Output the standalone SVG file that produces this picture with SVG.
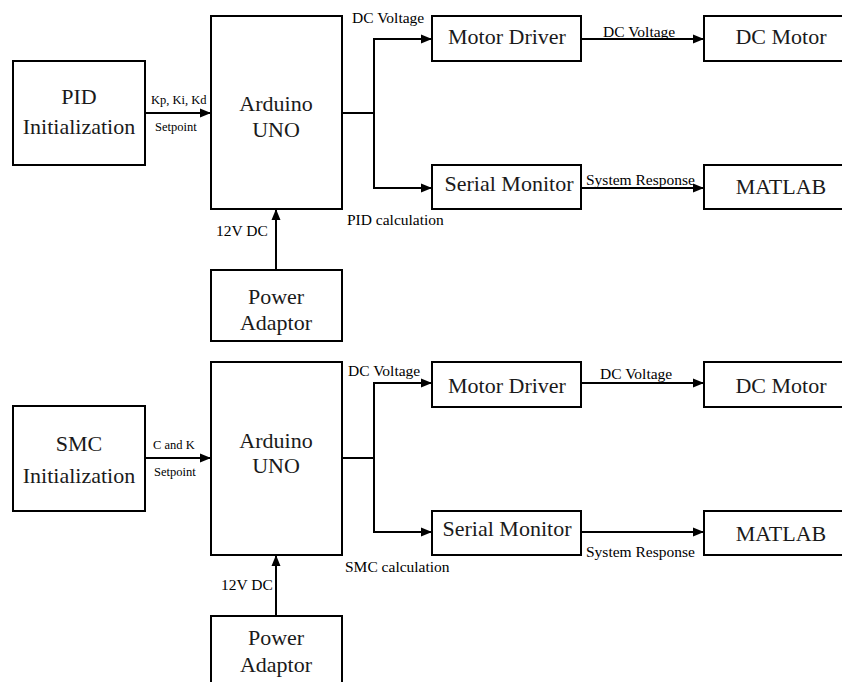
<svg xmlns="http://www.w3.org/2000/svg" width="842" height="682" viewBox="0 0 842 682">
<style>
.box{fill:#fff;stroke:#000;stroke-width:2}
.t{font-size:22px;fill:#1a1a1a;text-anchor:middle}
.l{font-size:15.5px;fill:#000}
.s{font-size:12.5px;fill:#000}
.c{fill:none;stroke:#000;stroke-width:2}
</style>
<defs>
<marker id="ah" markerUnits="userSpaceOnUse" markerWidth="12" markerHeight="10" refX="11" refY="5" orient="auto">
<path d="M0,0.5 L11,5 L0,9.5 z" fill="#000"/>
</marker>
</defs>
<rect width="842" height="682" fill="#fff"/>
<g font-family="Liberation Serif, Tinos, DejaVu Serif, serif">
<g id="connectors">
<line class="c" x1="145" y1="113" x2="211" y2="113" marker-end="url(#ah)"/>
<polyline class="c" points="342,113 374,113"/>
<line class="c" x1="374" y1="39" x2="374" y2="188"/>
<line class="c" x1="373" y1="39" x2="432" y2="39" marker-end="url(#ah)"/>
<line class="c" x1="373" y1="188" x2="432" y2="188" marker-end="url(#ah)"/>
<line class="c" x1="581" y1="39" x2="704" y2="39" marker-end="url(#ah)"/>
<line class="c" x1="581" y1="188" x2="704" y2="188" marker-end="url(#ah)"/>
<line class="c" x1="276" y1="270" x2="276" y2="209" marker-end="url(#ah)"/>
<line class="c" x1="145" y1="458" x2="211" y2="458" marker-end="url(#ah)"/>
<polyline class="c" points="342,458 374,458"/>
<line class="c" x1="374" y1="383" x2="374" y2="532"/>
<line class="c" x1="373" y1="383" x2="432" y2="383" marker-end="url(#ah)"/>
<line class="c" x1="373" y1="532" x2="432" y2="532" marker-end="url(#ah)"/>
<line class="c" x1="581" y1="383" x2="704" y2="383" marker-end="url(#ah)"/>
<line class="c" x1="581" y1="532" x2="704" y2="532" marker-end="url(#ah)"/>
<line class="c" x1="276" y1="616" x2="276" y2="555" marker-end="url(#ah)"/>
<text class="s" x="151" y="104">Kp, Ki, Kd</text>
<text class="s" x="155" y="131">Setpoint</text>
<text class="l" x="352" y="23">DC Voltage</text>
<text class="l" x="347" y="225">PID calculation</text>
<text class="l" x="216" y="236">12V DC</text>
<text class="l" x="603" y="37">DC Voltage</text>
<text class="l" x="586" y="185">System Response</text>
<text class="s" x="153" y="449">C and K</text>
<text class="s" x="154" y="476">Setpoint</text>
<text class="l" x="348" y="376">DC Voltage</text>
<text class="l" x="345" y="572">SMC calculation</text>
<text class="l" x="221" y="590">12V DC</text>
<text class="l" x="600" y="379">DC Voltage</text>
<text class="l" x="586" y="557">System Response</text>
</g>
<g id="pid-init"><rect class="box" x="13" y="61" width="132" height="104"/><text class="t" x="79" y="104">PID</text><text class="t" x="79" y="134">Initialization</text></g>
<g id="arduino-1"><rect class="box" x="211" y="16" width="131" height="193"/><text class="t" x="276" y="111">Arduino</text><text class="t" x="276" y="137">UNO</text></g>
<g id="power-1"><rect class="box" x="211" y="270" width="131" height="71"/><text class="t" x="276" y="304">Power</text><text class="t" x="276" y="330">Adaptor</text></g>
<g id="motor-driver-1"><rect class="box" x="432" y="16" width="149" height="45"/><text class="t" x="507" y="44">Motor Driver</text></g>
<g id="dc-motor-1"><rect class="box" x="704" y="16" width="156" height="45"/><text class="t" x="781" y="44">DC Motor</text></g>
<g id="serial-1"><rect class="box" x="432" y="165" width="149" height="44"/><text class="t" x="509" y="191">Serial Monitor</text></g>
<g id="matlab-1"><rect class="box" x="704" y="165" width="156" height="44"/><text class="t" x="781" y="194">MATLAB</text></g>
<g id="smc-init"><rect class="box" x="13" y="406" width="132" height="105"/><text class="t" x="79" y="451">SMC</text><text class="t" x="79" y="483">Initialization</text></g>
<g id="arduino-2"><rect class="box" x="211" y="362" width="131" height="193"/><text class="t" x="276" y="448">Arduino</text><text class="t" x="276" y="473">UNO</text></g>
<g id="power-2"><rect class="box" x="211" y="616" width="131" height="80"/><text class="t" x="276" y="645">Power</text><text class="t" x="276" y="672">Adaptor</text></g>
<g id="motor-driver-2"><rect class="box" x="432" y="362" width="149" height="45"/><text class="t" x="507" y="393">Motor Driver</text></g>
<g id="dc-motor-2"><rect class="box" x="704" y="362" width="156" height="45"/><text class="t" x="781" y="393">DC Motor</text></g>
<g id="serial-2"><rect class="box" x="432" y="511" width="149" height="44"/><text class="t" x="507" y="536">Serial Monitor</text></g>
<g id="matlab-2"><rect class="box" x="704" y="511" width="156" height="44"/><text class="t" x="781" y="541">MATLAB</text></g>
</g>
</svg>
